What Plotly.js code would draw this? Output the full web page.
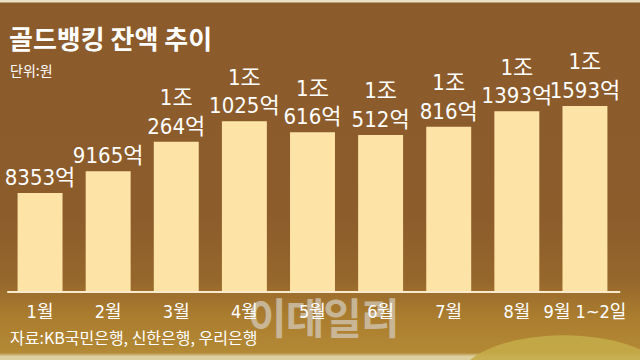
<!DOCTYPE html>
<html><head><meta charset="utf-8">
<script src="https://cdn.plot.ly/plotly-3.0.1.min.js"></script>
<style>
html,body{margin:0;padding:0;}
#wrap{width:640px;height:360px;position:relative;overflow:hidden;
background:linear-gradient(to bottom,#e9e2c4 0px,#e9e2c4 2px,#8b5b2c 3px,#8c5c2b 60%,#96672c 78%,#ab7d2f 88%,#b38935 98%,#ddd0a0 99%,#ddd0a0 100%);}
#wm{position:absolute;left:248px;top:290px;font-family:'Noto Sans CJK KR',sans-serif;font-weight:700;
font-size:42px;line-height:52px;color:rgba(205,192,170,0.85);letter-spacing:-1px;z-index:0;}
#chart{width:640px;height:360px;position:absolute;left:0;top:0;z-index:1;}
</style></head><body>
<div id="wrap"><div id="wm">이데일리</div><div id="chart"></div></div>
<script>
const months = ["1월","2월","3월","4월","5월","6월","7월","8월","9월 1~2일"];
const balances = [8353, 9165, 10264, 11025, 10616, 10512, 10816, 11393, 11593]; // 억원
const labels = balances.map(v => v >= 10000 ? "1조<br>" + (v - 10000) + "억" : v + "억");

const narrow = "'Liberation Sans Narrow', 'Arial Narrow', 'DejaVu Sans Condensed', 'Noto Sans CJK KR', sans-serif";
const cjk = "'Noto Sans CJK KR', sans-serif";

const trace = {
  type: "bar",
  x: months,
  y: balances,
  text: labels,
  textposition: "outside",
  constraintext: "none",
  cliponaxis: false,
  textfont: {family: narrow, size: 22, color: "#ffffff"},
  marker: {color: "#fde3a6", line: {width: 0}},
  width: 0.66,
  hoverinfo: "skip"
};

const layout = {
  width: 640, height: 360,
  margin: {l: 6, r: 21, t: 40, b: 68},
  paper_bgcolor: "rgba(0,0,0,0)",
  plot_bgcolor: "rgba(0,0,0,0)",
  showlegend: false,
  bargap: 0.34,
  xaxis: {
    type: "category",
    range: [-0.5, 8.5],
    showgrid: false, zeroline: false,
    showline: false,
    ticks: "",
    tickfont: {family: narrow, size: 18, color: "#ffffff"},
    ticklabelstandoff: 7
  },
  yaxis: {
    range: [4666, 14051],
    visible: false,
    fixedrange: true
  },
  shapes: [
    {type: "line", xref: "paper", yref: "paper", x0: 0.002, x1: 1.002, y0: 0, y1: 0,
     line: {color: "#fbeacb", width: 2}},
    {type: "circle", xref: "paper", yref: "paper", layer: "below",
     x0: 0.74, x1: 1.08, y0: -0.52, y1: -0.172,
     fillcolor: "#c4ab48", line: {width: 0}, opacity: 0.9}
  ],
  annotations: [
    {text: "<b>골드뱅킹 잔액 추이</b>", xref: "paper", yref: "paper", x: 0.002, y: 1.008,
     xanchor: "left", yanchor: "middle", showarrow: false,
     font: {family: cjk, size: 26, color: "#ffffff"}},
    {text: "단위:원", xref: "paper", yref: "paper", x: 0.003, y: 0.881,
     xanchor: "left", yanchor: "middle", showarrow: false,
     font: {family: cjk, size: 14, color: "#ffffff"}},
    {text: "자료:KB국민은행, 신한은행, 우리은행", xref: "paper", yref: "paper", x: 0.004, y: -0.179,
     xanchor: "left", yanchor: "middle", showarrow: false,
     font: {family: cjk, size: 16, color: "#ffffff"}}
  ]
};

Plotly.newPlot("chart", [trace], layout, {displayModeBar: false, staticPlot: true});
</script>
</body></html>
